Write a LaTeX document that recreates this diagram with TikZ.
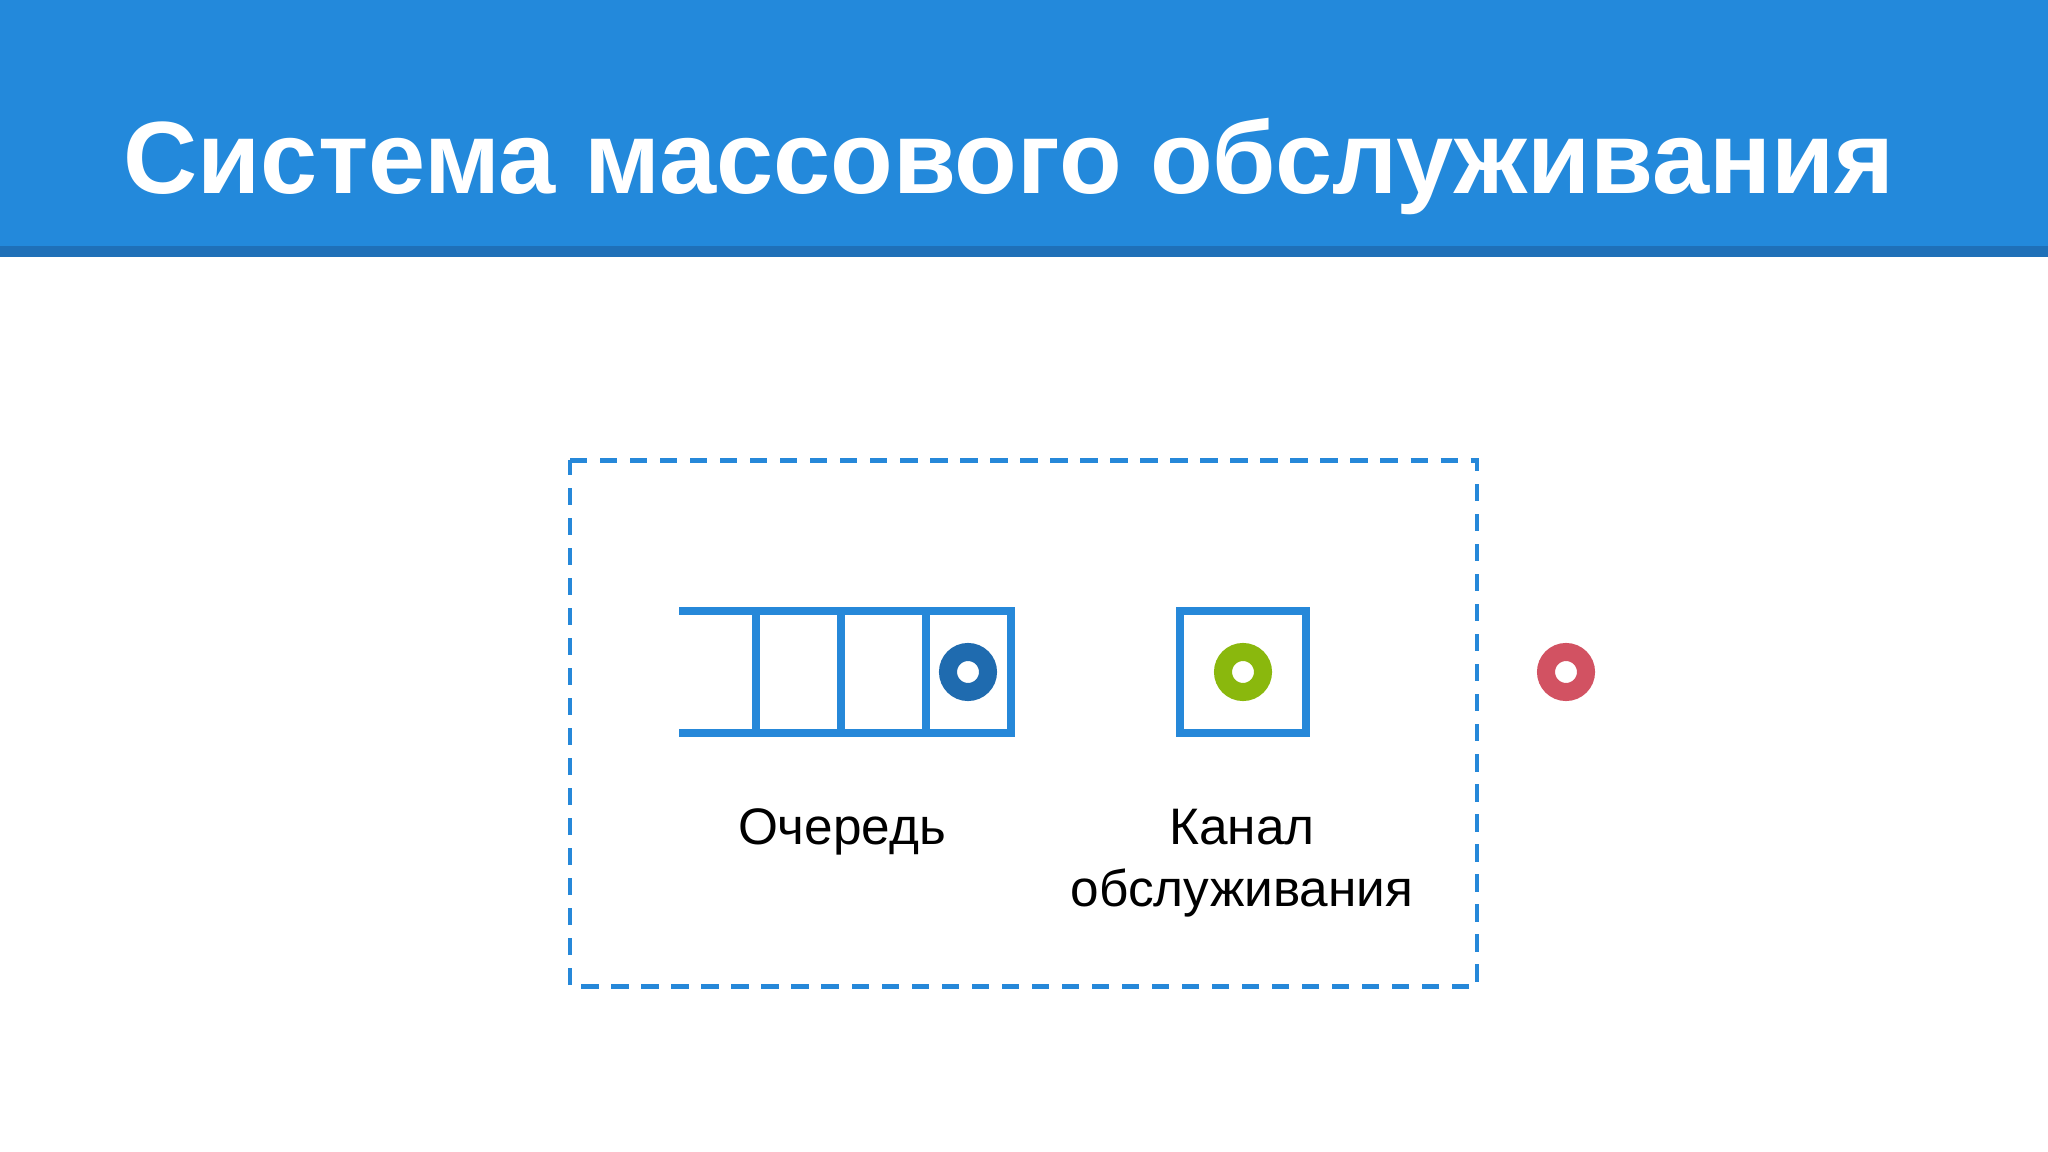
\documentclass[tikz,border=0pt]{standalone}
\usepackage{fontspec}
\setmainfont{Liberation Sans}

\definecolor{bannerblue}{RGB}{35,137,219}
\definecolor{bannerdark}{RGB}{31,112,184}
\definecolor{lineblue}{RGB}{38,136,217}
\definecolor{ringblue}{RGB}{31,107,175}
\definecolor{ringgreen}{RGB}{138,184,13}
\definecolor{ringred}{RGB}{210,82,98}

\tikzset{
	cellline/.style={draw=lineblue, line width=0.08cm},
	dashbox/.style={draw=lineblue, line width=0.043cm, dash pattern=on 0.173cm off 0.127cm},
	ring/.style={circle, draw=#1, line width=0.18cm, minimum size=0.4cm, inner sep=0pt, outer sep=0pt},
	label/.style={font=\fontsize{14.6}{17.6}\selectfont, align=center, inner sep=0pt}
}

\begin{document}
\begin{tikzpicture}[x=0.01cm, y=-0.01cm]

	% The Canvas
	\useasboundingbox (0,0) rectangle (2048,1152);
	\fill[white] (0,0) rectangle (2048,1152);

	% Banner
	\fill[bannerblue] (0,0) rectangle (2048,246);
	\fill[bannerdark] (0,246) rectangle (2048,257);
	\node (title) [anchor=base west, inner sep=0pt, text=white, font=\fontsize{29.2}{34}\selectfont\bfseries] at (123,194) {Система массового обслуживания};

	% The System
	\draw[dashbox] (570,460.5) -- (1477,460.5) -- (1477,986.5) -- (570,986.5) -- cycle;

	% Queue
	\draw[cellline] (679,611) -- (1011,611) -- (1011,733) -- (679,733);
	\draw[cellline] (756,611) -- (756,733);
	\draw[cellline] (841,611) -- (841,733);
	\draw[cellline] (926,611) -- (926,733);
	\node (qring) [ring=ringblue] at (968,672) {};
	\node (qlabel) [label, anchor=base] at (842,844) {Очередь};

	% Channel
	\node (chan) [cellline, rectangle, minimum width=1.26cm, minimum height=1.22cm, inner sep=0pt] at (1243,672) {};
	\node (cring) [ring=ringgreen] at (chan.center) {};
	\node (clabel) [label, anchor=base] at (1242,906) {Канал\\обслуживания};

	% Served request
	\node (outring) [ring=ringred] at (1566,672) {};

\end{tikzpicture}
\end{document}
